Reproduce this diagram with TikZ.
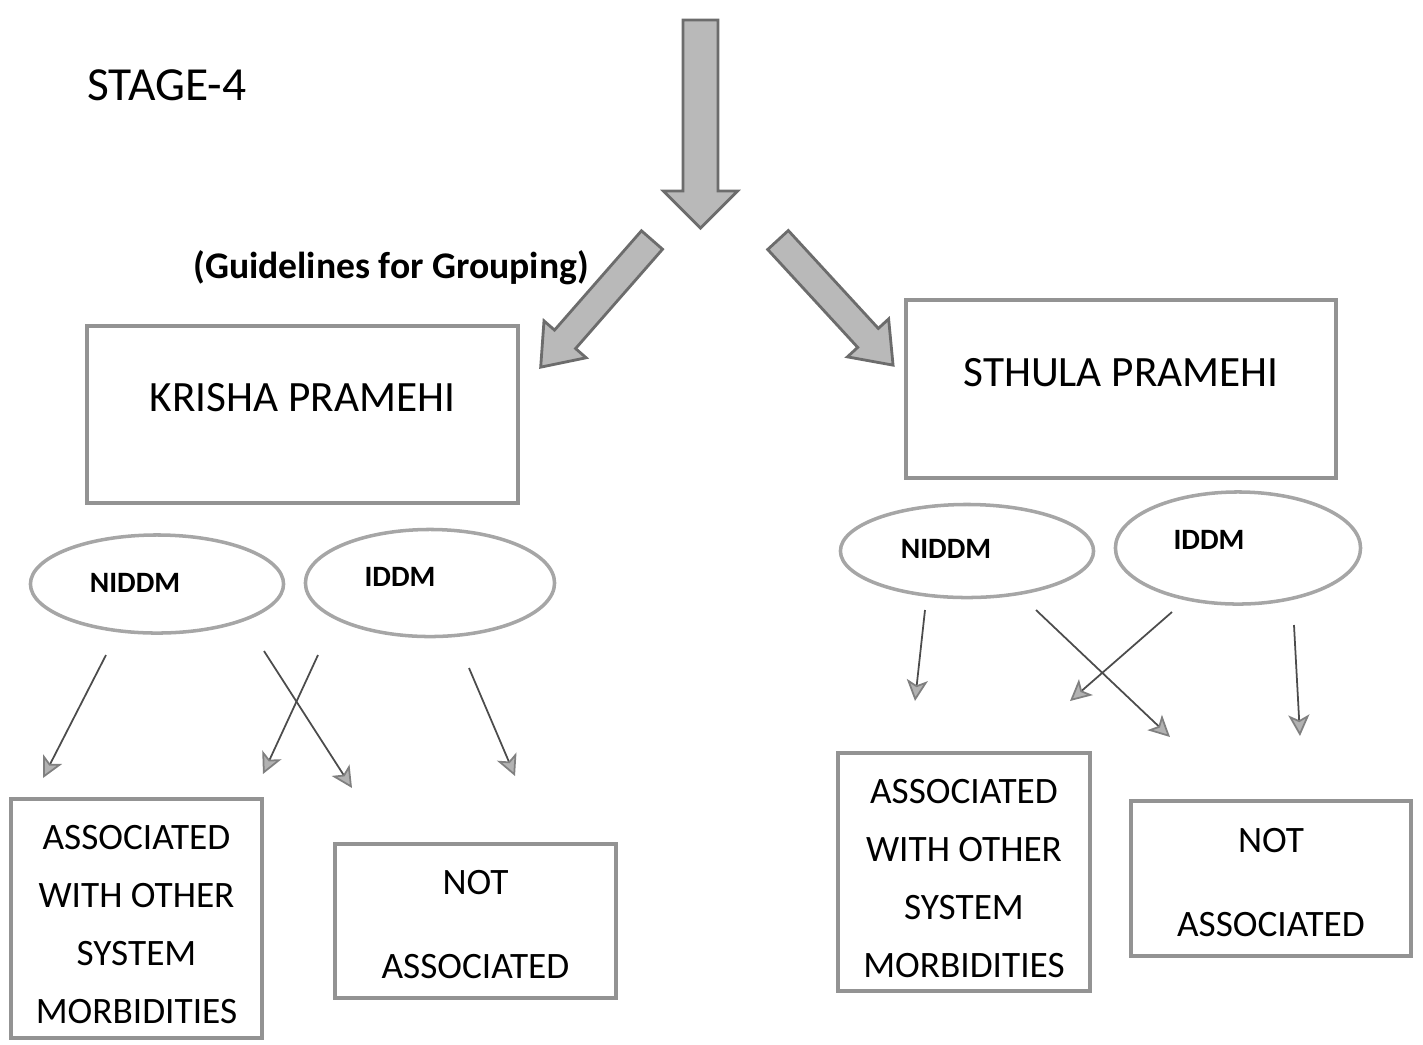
\documentclass[tikz,border=0pt]{standalone}
\usepackage{fontspec}
\setmainfont{Carlito}
\usetikzlibrary{shapes.geometric,arrows.meta}

\tikzset{
  fatarrow/.style={draw=gray!85!black, fill=gray!55, line width=0.8pt},
  greybox/.style={rectangle, draw=gray!85, line width=1pt, align=center,
    font=\fontsize{10.6}{16.5}\selectfont},
  titlebox/.style={greybox, font=\fontsize{12.3}{15}\selectfont,
    text height=0.3cm, text depth=0.36cm},
  typeoval/.style={ellipse, draw=gray!70, line width=1pt},
  typetext/.style={font=\bfseries\fontsize{8.4}{10}\selectfont},
  thinarrow/.style={draw=black!70, line width=0.5pt,
    -{Stealth[length=6pt,width=6pt,inset=1.5pt,fill=gray!60,color=gray]}},
}

% tail x, tail y, angle, length, shaft half width, head half width
\newcommand{\fatarr}[6]{%
  \begin{scope}[shift={(#1,#2)}, rotate=#3]
    \draw[fatarrow] (0,-#5) -- (#4-37,-#5) -- (#4-37,-#6) -- (#4,0)
      -- (#4-37,#6) -- (#4-37,#5) -- (0,#5) -- cycle;
  \end{scope}}

\begin{document}
\begin{tikzpicture}[x=0.01cm, y=-0.01cm]
  \useasboundingbox (0,0) rectangle (1423,1044);

  \node (stage) [font=\fontsize{13.5}{16}\selectfont] at (167,85) {STAGE-4};

  % grey block arrows
  \fatarr{700.5}{20}{-90}{208}{17.5}{37}
  \fatarr{652}{240}{228.8}{169}{14}{28}
  \fatarr{778}{240}{-47.4}{170}{14}{28}

  \node (guide) [font=\bfseries\fontsize{10.7}{13}\selectfont] at (391,268)
    {(Guidelines for Grouping)};

  % the two groups
  \node (krisha) [titlebox, minimum width=4.31cm, minimum height=1.77cm]
    at (302.5,414.5) {KRISHA PRAMEHI};
  \node (sthula) [titlebox, minimum width=4.30cm, minimum height=1.78cm]
    at (1121,389) {STHULA PRAMEHI};

  % left ovals
  \node (lniddm) [typeoval, minimum width=2.53cm, minimum height=0.98cm] at (157,584) {};
  \node (liddm) [typeoval, minimum width=2.49cm, minimum height=1.07cm] at (430,583) {};
  \node (lniddmtext) [typetext] at (135,583) {NIDDM};
  \node (liddmtext) [typetext] at (400,577) {IDDM};

  % right ovals
  \node (rniddm) [typeoval, minimum width=2.53cm, minimum height=0.93cm] at (967,551) {};
  \node (riddm) [typeoval, minimum width=2.45cm, minimum height=1.12cm] at (1238,548) {};
  \node (rniddmtext) [typetext] at (946,549) {NIDDM};
  \node (riddmtext) [typetext] at (1209,540) {IDDM};

  % outcome boxes
  \node (lassoc) [greybox, minimum width=2.51cm, minimum height=2.39cm] at (136.5,918.5)
    {\rule{0pt}{0.37cm}ASSOCIATED\\WITH OTHER\\SYSTEM\\MORBIDITIES};
  \node (lnot) [greybox, minimum width=2.81cm, minimum height=1.54cm] at (475.5,921)
    {\rule{0pt}{0.32cm}NOT\\[0.26cm]ASSOCIATED};
  \node (rassoc) [greybox, minimum width=2.52cm, minimum height=2.38cm] at (964,872)
    {\rule{0pt}{0.37cm}ASSOCIATED\\WITH OTHER\\SYSTEM\\MORBIDITIES};
  \node (rnot) [greybox, minimum width=2.80cm, minimum height=1.55cm] at (1271,878.5)
    {\rule{0pt}{0.32cm}NOT\\[0.26cm]ASSOCIATED};

  % thin arrow ends
  \coordinate (l1s) at (106,655);  \coordinate (l1e) at (43,778);
  \coordinate (l2s) at (318,655);  \coordinate (l2e) at (263,774);
  \coordinate (l3s) at (264,651);  \coordinate (l3e) at (352,788);
  \coordinate (l4s) at (469,668);  \coordinate (l4e) at (515,776);
  \coordinate (r1s) at (925,610);  \coordinate (r1e) at (915,701);
  \coordinate (r2s) at (1036,610); \coordinate (r2e) at (1170,737);
  \coordinate (r3s) at (1172,612); \coordinate (r3e) at (1070,701);
  \coordinate (r4s) at (1294,625); \coordinate (r4e) at (1300,736);

  \foreach \a in {l1,l2,l3,l4,r1,r2,r3,r4}
    \draw[thinarrow] (\a s) -- (\a e);
\end{tikzpicture}
\end{document}
